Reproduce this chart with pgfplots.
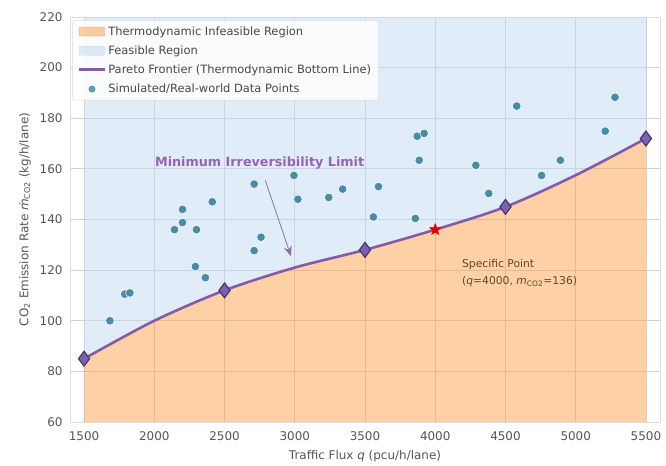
\documentclass[border=0pt]{standalone}
\usepackage{pgfplots}
\pgfplotsset{compat=1.18}
\usepgfplotslibrary{fillbetween}
\usetikzlibrary{arrows.meta}
\usepackage{fontspec}
\setmainfont{DejaVu Sans}
\definecolor{infeas}{RGB}{251,164,82}
\definecolor{feas}{RGB}{195,219,240}
\definecolor{pareto}{RGB}{135,90,165}
\definecolor{diafill}{RGB}{122,98,178}
\definecolor{diaedge}{RGB}{66,50,96}
\definecolor{pts}{RGB}{72,140,166}
\definecolor{gridc}{RGB}{208,208,208}
\definecolor{tickc}{RGB}{85,85,85}
\definecolor{annot}{RGB}{150,100,180}
\definecolor{spec}{RGB}{95,75,30}
\pgfdeclareplotmark{fstar}{%
  \pgfpathmoveto{\pgfpointpolar{90}{\pgfplotmarksize}}%
  \pgfpathlineto{\pgfpointpolar{126}{0.42\pgfplotmarksize}}%
  \pgfpathlineto{\pgfpointpolar{162}{\pgfplotmarksize}}%
  \pgfpathlineto{\pgfpointpolar{198}{0.42\pgfplotmarksize}}%
  \pgfpathlineto{\pgfpointpolar{234}{\pgfplotmarksize}}%
  \pgfpathlineto{\pgfpointpolar{270}{0.42\pgfplotmarksize}}%
  \pgfpathlineto{\pgfpointpolar{306}{\pgfplotmarksize}}%
  \pgfpathlineto{\pgfpointpolar{342}{0.42\pgfplotmarksize}}%
  \pgfpathlineto{\pgfpointpolar{18}{\pgfplotmarksize}}%
  \pgfpathlineto{\pgfpointpolar{54}{0.42\pgfplotmarksize}}%
  \pgfpathclose\pgfusepathqfillstroke}
\begin{document}
\begin{tikzpicture}
\begin{axis}[
  scale only axis, width=590bp, height=405bp,
  xmin=1400, xmax=5600, ymin=60, ymax=220,
  xtick={1500,2000,...,5500}, ytick={60,80,...,220},
  /pgf/number format/assume math mode=true,
  /pgf/number format/1000 sep={},
  tick label style={font=\fontsize{12}{14}\selectfont, color=tickc},
  yticklabel style={xshift=-4bp},
  xticklabel style={yshift=-6bp},
  label style={font=\fontsize{12}{14}\selectfont, color=tickc},
  ylabel shift=2bp, xlabel shift=3bp,
  major tick length=0pt,
  grid=major, grid style={color=gridc, line width=0.8pt},
  axis line style={color=gridc!70, line width=0.8pt},
  xlabel={Traffic Flux \textit{q} (pcu/h/lane)},
  ylabel={CO\textsubscript{2} Emission Rate \textit{ṁ}\textsubscript{CO2} (kg/h/lane)},
  legend style={at={(rel axis cs:0.004,0.992)}, anchor=north west,
    font=\fontsize{11.5}{13}\selectfont, draw=gray!30, rounded corners=2pt,
    fill=white, fill opacity=0.85, text opacity=1, text=black!72,
    row sep=5bp, inner xsep=5bp, inner ysep=4bp},
  legend cell align=left,
]
\addlegendimage{legend image code/.code={\fill[infeas, fill opacity=0.55] (0bp,-4.5bp) rectangle (26bp,4.5bp);}}
\addlegendentry{Thermodynamic Infeasible Region}
\addlegendimage{legend image code/.code={\fill[feas, fill opacity=0.55] (0bp,-4.5bp) rectangle (26bp,4.5bp);}}
\addlegendentry{Feasible Region}
\addlegendimage{legend image code/.code={\draw[pareto, line width=2.8pt] (0bp,0bp) -- (26bp,0bp);}}
\addlegendentry{Pareto Frontier (Thermodynamic Bottom Line)}
\addlegendimage{legend image code/.code={\fill[pts] (13bp,0bp) circle (3.2bp);}}
\addlegendentry{Simulated/Real-world Data Points}

\addplot[draw=none, name path=curve, smooth, forget plot] coordinates {
(1500,85) (2000,100) (2500,112) (3000,121) (3500,128) (4000,136) (4500,145) (5000,157.5) (5500,172)};
\addplot[draw=none, name path=bot, forget plot] coordinates {(1500,60) (5500,60)};
\addplot[draw=none, name path=top, forget plot] coordinates {(1500,220) (5500,220)};
\addplot[fill=infeas, fill opacity=0.52, draw=none, forget plot] fill between[of=curve and bot];
\addplot[fill=feas, fill opacity=0.52, draw=none, forget plot] fill between[of=curve and top];

\addplot[only marks, mark=*, mark size=4.3pt, mark options={fill=pts, draw=white, line width=0.5pt}, forget plot] coordinates {
(1684,100) (1790,110.5) (1826,111) (2144,136) (2201,138.8) (2201,144) (2300,136)
(2413,147) (2293,121.4) (2364,117) (2711,154) (2760,133) (2711,127.7) (2994,157.4)
(3022,148) (3242,148.7) (3341,152) (3596,153) (3560,141) (3872,172.9) (3921,174)
(3886,163.4) (3858,140.4) (4289,161.4) (4381,150.3) (4580,184.8) (4757,157.4)
(4891,163.4) (5210,174.9) (5280,188.3)};

\addplot[color=pareto, line width=2.6pt, smooth, forget plot] coordinates {
(1500,85) (2000,100) (2500,112) (3000,121) (3500,128) (4000,136) (4500,145) (5000,157.5) (5500,172)};
\addplot[only marks, mark=diamond*, mark size=7.5pt, mark options={fill=diafill, draw=diaedge, line width=1.1pt}, forget plot] coordinates {
(1500,85) (2500,112) (3500,128) (4500,145) (5500,172)};
\addplot[only marks, mark=fstar, mark size=6pt, mark options={fill=red!90!black, draw=red!90!black, line width=0.5pt}, forget plot] coordinates {(4000,136)};

\draw[-{Stealth[length=10pt,width=8pt]}, color=annot!60!gray, line width=0.8pt] (axis cs:2790,155.5) -- (axis cs:2973,125.5);
\node[font=\bfseries\fontsize{12.8}{14}\selectfont, color=annot] at (axis cs:2750,162.5) {Minimum Irreversibility Limit};
\node[anchor=north west, align=left, font=\fontsize{10.8}{17}\selectfont, color=spec, inner sep=0pt] at (axis cs:4190,124.3)
  {Specific Point\\(\textit{q}=4000, \textit{m}\textsubscript{CO2}=136)};
\end{axis}
\path ([shift={(-70bp,-43bp)}]current axis.south west) rectangle ([shift={(6bp,17bp)}]current axis.north east);
\end{tikzpicture}
\end{document}
